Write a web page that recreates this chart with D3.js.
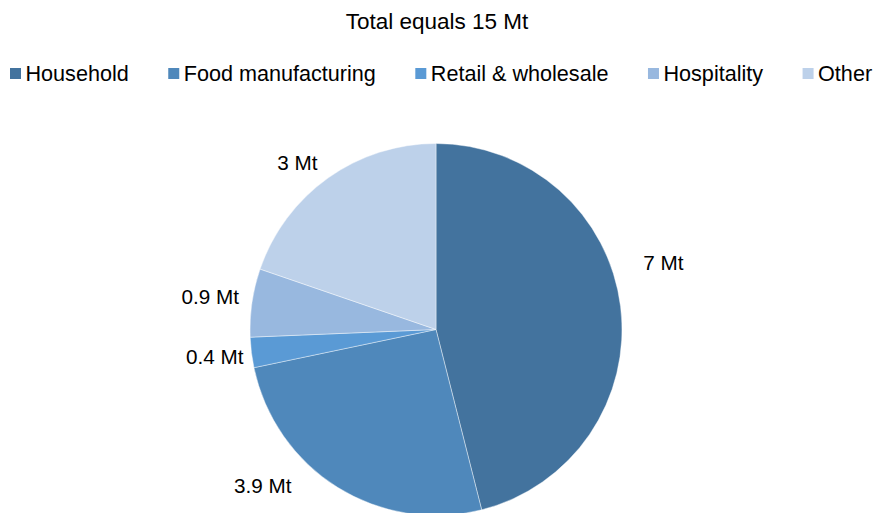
<!DOCTYPE html>
<html>
<head>
<meta charset="utf-8">
<script src="https://cdn.jsdelivr.net/npm/d3@7"></script>
<style>
  html, body { margin: 0; padding: 0; background: #fff; }
  svg { display: block; font-family: "Liberation Sans", Arial, sans-serif; }
</style>
</head>
<body>
<svg id="chart" width="877" height="513"></svg>
<script>
// Food waste by sector (million tonnes)
const categories = ["Household", "Food manufacturing", "Retail & wholesale", "Hospitality", "Other"];
const values = [7, 3.9, 0.4, 0.9, 3];
const valueLabels = ["7 Mt", "3.9 Mt", "0.4 Mt", "0.9 Mt", "3 Mt"];
const colors = ["#43739e", "#4f88bb", "#5a9ad5", "#98b8df", "#bdd1ea"];
const title = "Total equals 15 Mt";

// Layout
const W = 877, H = 513;
const cx = 436, cy = 329.5, radius = 186;
const labelRadius = 225;
// Nudges applied to each data label after polar placement
const labelNudge = [[4, -39], [-54, -35], [2, -1], [-3, -1], [-8, 16]];

const svg = d3.select("#chart");

svg.append("text")
  .attr("x", 437).attr("y", 29)
  .attr("text-anchor", "middle")
  .attr("font-size", 22.5)
  .attr("fill", "#000")
  .text(title);

// Legend, laid out left to right from measured text widths
const legend = svg.append("g");
let lx = 10;
categories.forEach((c, i) => {
  const g = legend.append("g").attr("transform", `translate(${lx},0)`);
  g.append("rect").attr("x", 0).attr("y", 68).attr("width", 11).attr("height", 11).attr("fill", colors[i]);
  const t = g.append("text").attr("x", 15.5).attr("y", 81).attr("font-size", 21.6).attr("fill", "#000").text(c);
  lx += 15.5 + t.node().getComputedTextLength() + 39.5;
});

// Pie
const pie = d3.pie().sort(null).value(d => d)(values);
const arc = d3.arc().innerRadius(0).outerRadius(radius);
const g = svg.append("g").attr("transform", `translate(${cx},${cy})`);

g.selectAll("path")
  .data(pie)
  .join("path")
  .attr("d", arc)
  .attr("fill", (d, i) => colors[i])
  .attr("stroke", "#ffffff")
  .attr("stroke-width", 0.7)
  .attr("stroke-opacity", 0.6);

const labelArc = d3.arc().innerRadius(labelRadius).outerRadius(labelRadius);
g.selectAll("text.lbl")
  .data(pie)
  .join("text")
  .attr("class", "lbl")
  .attr("x", (d, i) => labelArc.centroid(d)[0] + labelNudge[i][0])
  .attr("y", (d, i) => labelArc.centroid(d)[1] + labelNudge[i][1])
  .attr("text-anchor", "middle")
  .attr("dominant-baseline", "central")
  .attr("font-size", 20.7)
  .attr("fill", "#000")
  .text((d, i) => valueLabels[i]);
</script>
</body>
</html>
